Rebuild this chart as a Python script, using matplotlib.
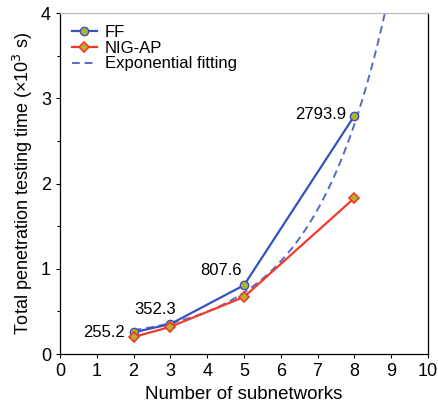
import numpy as np
import matplotlib.pyplot as plt

plt.rcParams['font.family'] = ['Liberation Sans', 'DejaVu Sans']

# data (time in 10^3 s)
subnets = [2, 3, 5, 8]
ff_time = [0.2552, 0.3523, 0.8076, 2.7939]
nig_time = [0.20, 0.32, 0.67, 1.83]
ff_labels = ["255.2", "352.3", "807.6", "2793.9"]

# exponential fitting curve: y = c + a * exp(b * x)
fit_a, fit_b, fit_c = 0.0465, 0.5, 0.154
fit_range = (2, 8.9)

blue = "#3552c0"
red = "#f23a2a"
olive = "#b4b22a"

fig = plt.figure(figsize=(4.38, 4.07), dpi=100)
ax = fig.add_axes([0.137, 0.130, 0.840, 0.838])

xf = np.linspace(fit_range[0], fit_range[1], 200)
yf = fit_c + fit_a * np.exp(fit_b * xf)

ax.plot(subnets, ff_time, color=blue, lw=1.6, marker="o", ms=6,
        mfc=olive, mec=blue, mew=1.0, label="FF", zorder=3)
ax.plot(subnets, nig_time, color=red, lw=1.6, marker="D", ms=5.5,
        mfc=olive, mec=red, mew=1.2, label="NIG-AP", zorder=3)
ax.plot(xf, yf, color=blue, lw=1.4, ls=(0, (4, 2.5)), alpha=0.85,
        label="Exponential fitting", zorder=2)

# value labels on FF points (offset in points, alignment)
offsets = [(-6, 0, "right", "center"), (-11, 5, "center", "bottom"),
           (-1.5, 5, "right", "bottom"), (-6, 1, "right", "center")]
for x, y, txt, (dx, dy, ha, va) in zip(subnets, ff_time, ff_labels, offsets):
    ax.annotate(txt, (x, y), xytext=(dx, dy), textcoords="offset points",
                ha=ha, va=va, fontsize=12)

ax.set_xlim(0, 10)
ax.set_ylim(0, 4)
ax.set_xticks(range(0, 11))
ax.set_yticks(range(0, 5))
ax.set_yticks(np.arange(0.5, 4, 1.0), minor=True)
ax.tick_params(axis="both", labelsize=13, direction="out", length=3, width=0.8)
ax.tick_params(axis="y", which="minor", length=2, width=0.8)
ax.set_xlabel("Number of subnetworks", fontsize=13.5)
ax.set_ylabel("Total penetration testing time (×10$^3$ s)", fontsize=13)

for s in ax.spines.values():
    s.set_linewidth(0.9)
ax.spines["top"].set_color("#bbbbbb")

ax.legend(loc="upper left", frameon=False, fontsize=12, handlelength=1.5,
          borderaxespad=0.3, labelspacing=0.05, handletextpad=0.5)

fig.savefig("out.png", dpi=100)
